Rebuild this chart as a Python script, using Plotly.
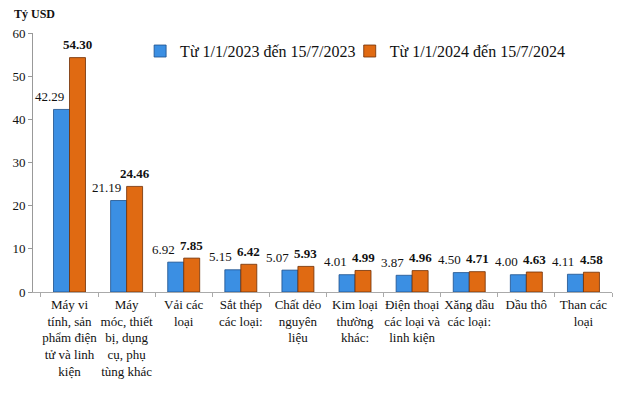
import plotly.graph_objects as go

categories = [
    "Máy vi<br>tính, sản<br>phẩm điện<br>tử và linh<br>kiện",
    "Máy<br>móc, thiết<br>bị, dụng<br>cụ, phụ<br>tùng khác",
    "Vải các<br>loại",
    "Sắt thép<br>các loại:",
    "Chất dẻo<br>nguyên<br>liệu",
    "Kim loại<br>thường<br>khác:",
    "Điện thoại<br>các loại và<br>linh kiện",
    "Xăng dầu<br>các loại:",
    "Dầu thô",
    "Than các<br>loại",
]
vals_2023 = [42.29, 21.19, 6.92, 5.15, 5.07, 4.01, 3.87, 4.50, 4.00, 4.11]
vals_2024 = [54.30, 24.46, 7.85, 6.42, 5.93, 4.99, 4.96, 4.71, 4.63, 4.58]
name_2023 = "Từ 1/1/2023 đến 15/7/2023"
name_2024 = "Từ 1/1/2024 đến 15/7/2024"

FONT = "Liberation Serif, Times New Roman, serif"

fig = go.Figure()
fig.add_trace(go.Bar(
    x=categories, y=vals_2023, name=name_2023, legend="legend",
    marker=dict(color="#3b8fe3", line=dict(color="#1d4f8a", width=0.8)),
))
fig.add_trace(go.Bar(
    x=categories, y=vals_2024, name=name_2024, legend="legend2",
    marker=dict(color="#e06a12", line=dict(color="#6e2f05", width=0.8)),
))

annotations = [dict(text="<b>Tỷ USD</b>", xref="paper", yref="paper",
                    x=-0.036, y=1.073, xanchor="left", yanchor="middle",
                    showarrow=False, font=dict(family=FONT, size=12, color="#111"))]
for c, v in zip(categories, vals_2023):
    annotations.append(dict(x=c, y=v, text=f"{v:.2f}", showarrow=False,
                            xanchor="center", yanchor="middle", xshift=-20, yshift=13,
                            font=dict(family=FONT, size=13, color="#111")))
for c, v in zip(categories, vals_2024):
    annotations.append(dict(x=c, y=v, text=f"<b>{v:.2f}</b>", showarrow=False,
                            xanchor="center", yanchor="middle", xshift=8, yshift=13,
                            font=dict(family=FONT, size=13, color="#111")))

legend_common = dict(orientation="h", yanchor="middle", xanchor="left", y=0.93,
                     font=dict(family=FONT, size=16, color="#111"),
                     bgcolor="rgba(0,0,0,0)")

fig.update_layout(
    width=624, height=393,
    margin=dict(l=33, r=12, t=33, b=101, autoexpand=False),
    paper_bgcolor="white", plot_bgcolor="white",
    barmode="group", bargap=0.44, bargroupgap=0.0,
    font=dict(family=FONT, size=12, color="#111"),
    showlegend=True,
    legend=dict(x=0.185, **legend_common),
    legend2=dict(x=0.547, **legend_common),
    annotations=annotations,
)
fig.update_yaxes(range=[0, 60], dtick=10, showgrid=False, showline=True,
                 linecolor="#999", ticks="outside", ticklen=4, tickcolor="#999",
                 tickfont=dict(family=FONT, size=13, color="#111"), zeroline=False,
                 automargin=False)
fig.update_xaxes(showline=True, linecolor="#aaa", ticks="outside", ticklen=4,
                 tickcolor="#aaa", tickson="boundaries", tickangle=0, automargin=False,
                 tickfont=dict(family=FONT, size=13, color="#111"))

fig.write_html("out.html", post_script="document.body.style.margin='0';",
               config={"displayModeBar": False})
